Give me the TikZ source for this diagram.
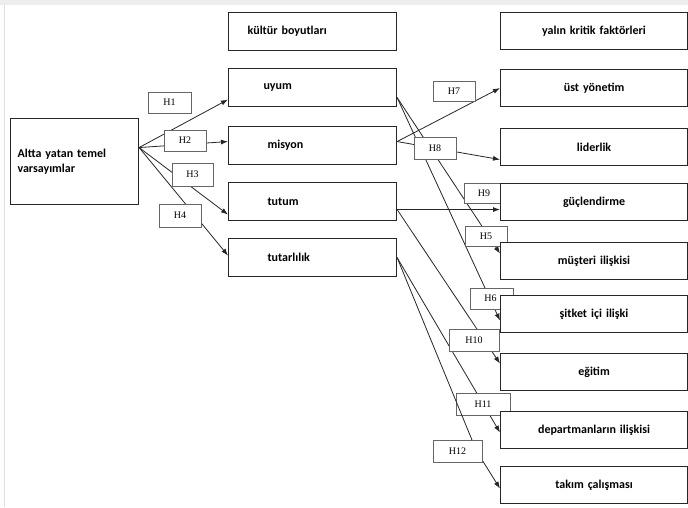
\documentclass[tikz,border=0pt]{standalone}
\usepackage{fontspec}
\setmainfont{Carlito}
\newfontfamily\hfont{Liberation Serif}
\usetikzlibrary{arrows.meta}
\pgfdeclarelayer{bottom}
\pgfdeclarelayer{back}
\pgfsetlayers{bottom,back,main}
\begin{document}
\begin{tikzpicture}[x=1pt,y=-1pt,
  box/.style={draw=black!85, line width=1.1pt, fill=white, anchor=north west,
    font=\bfseries\fontsize{12}{14.5}\selectfont, inner ysep=0pt},
  midbox/.style={box, minimum height=38pt, align=left},
  rbox/.style={box, minimum width=187pt, minimum height=37pt, text width=187pt,
    align=center, inner xsep=0pt},
  hbox/.style={draw=black!60, line width=0.9pt, fill=white,
    font=\hfont\fontsize{10}{12}\selectfont, minimum width=42pt, minimum height=21pt, inner sep=0pt},
  link/.style={draw=black!85, line width=0.8pt, -{Latex[length=7pt,width=5pt]}}
]
% page frame
\useasboundingbox (0,0) rectangle (688,507);
\begin{pgfonlayer}{bottom}
  \fill[white] (0,0) rectangle (688,507);
  \fill[black!7] (0,0) rectangle (688,5);
  \draw[black!12, line width=1pt] (4,5) -- (4,507);
\end{pgfonlayer}

% source box
\node[box, minimum width=128pt, minimum height=86pt, text width=114pt, inner xsep=7pt, align=left]
  (L) at (10,118) {Altta yatan temel\\varsayımlar};

% culture dimensions
\node[midbox, text width=130pt, inner xsep=19pt] (kb) at (228,12) {kültür boyutları};
\node[midbox, text width=98pt, inner xsep=35pt] (uyum) at (228,68) {uyum};
\node[midbox, text width=90pt, inner xsep=39pt] (misyon) at (228,126) {misyon};
\node[midbox, text width=90pt, inner xsep=39pt] (tutum) at (228,182) {tutum};
\node[midbox, text width=90pt, inner xsep=39pt] (tutar) at (228,238) {tutarlılık};

% lean critical factors
\node[rbox] (yk) at (500,12) {yalın kritik faktörleri};
\node[rbox] (ust) at (500,69) {üst yönetim};
\node[rbox] (lid) at (500,128) {liderlik};
\node[rbox] (guc) at (500,183) {güçlendirme};
\node[rbox] (mus) at (500,242) {müşteri ilişkisi};
\node[rbox] (sir) at (500,295) {şitket içi ilişki};
\node[rbox] (egi) at (500,353) {eğitim};
\node[rbox] (dep) at (500,411) {departmanların ilişkisi};
\node[rbox] (tak) at (500,466) {takım çalışması};

\begin{pgfonlayer}{back}
  % links from the underlying assumptions
  \draw[link] ([yshift=14pt]L.east) -- ([yshift=-12pt]uyum.west);
  \draw[link] ([yshift=14pt]L.east) -- ([yshift=4pt]misyon.west);
  \draw[link] ([yshift=14pt]L.east) -- ([yshift=-13pt]tutum.west);
  \draw[link] ([yshift=14pt]L.east) -- ([yshift=2pt]tutar.west);

  % links from the culture dimensions
  \draw[link] ([yshift=-10pt]uyum.east) -- ([yshift=7.5pt]mus.west);
  \draw[link] ([yshift=-10pt]uyum.east) -- ([yshift=-6.5pt]sir.west);
  \draw[link] ([yshift=4pt]misyon.east) -- (ust.west);
  \draw[link] ([yshift=4pt]misyon.east) -- ([yshift=-12.5pt]lid.west);
  \draw[link] ([yshift=-8pt]tutum.east) -- ([yshift=-7.5pt]guc.west);
  \draw[link] ([yshift=-8pt]tutum.east) -- ([yshift=8.5pt]egi.west);
  \draw[link] (tutar.east) -- ([yshift=-2.5pt]dep.west);

  % hypothesis labels
  \node[hbox, minimum width=43pt] (H1) at (169.5,102.5) {H1};
  \node[hbox] (H2) at (185,140.5) {H2};
  \node[hbox, minimum width=41pt, minimum height=23pt] (H3) at (192.5,174.5) {H3};
  \node[hbox, minimum height=23pt] (H4) at (180,215.5) {H4};
  \node[hbox, minimum height=20pt] (H7) at (454,91) {H7};
  \node[hbox, minimum height=22pt] (H8) at (435,148) {H8};
  \node[hbox, minimum width=46pt, minimum height=20pt] (H9) at (487,193) {H9\hspace*{6pt}};
  \node[hbox, minimum height=20pt] (H5) at (486,236.5) {H5};
  \node[hbox, minimum width=43pt] (H6) at (491.5,298.5) {H6\hspace*{2pt}};
  \node[hbox, minimum width=50pt, minimum height=22pt] (H10) at (474,340) {H10};
  \node[hbox, minimum width=54pt, minimum height=22pt] (H11) at (483,404) {H11};
  \node[hbox, minimum width=49pt, minimum height=22pt] (H12) at (457.5,451) {H12};

  % the last link bends behind its label
  \draw[link] (tutar.east) -- ([xshift=19pt]H12.center) -- ([yshift=-3.5pt]tak.west);
  \node[hbox, minimum width=49pt, minimum height=22pt] at (H12) {H12};
\end{pgfonlayer}

\end{tikzpicture}
\end{document}
